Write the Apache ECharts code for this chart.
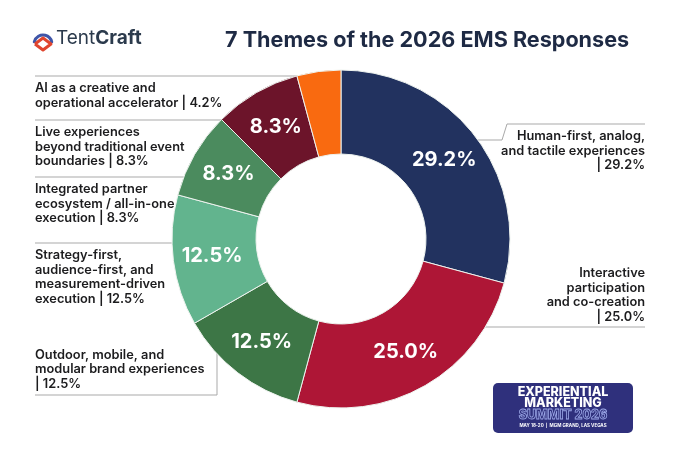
<!DOCTYPE html>
<html>
<head>
<meta charset="utf-8">
<script src="https://cdn.jsdelivr.net/npm/echarts@6/dist/echarts.min.js"></script>
<style>
  html, body { margin: 0; padding: 0; background: #ffffff; }
  #chart { width: 680px; height: 453px; }
</style>
</head>
<body>
<div id="chart"></div>
<script>
// themes, clockwise from 12 o'clock (trailing text before the "| x%" part)
const themes = [
  'Human-first, analog,\nand tactile experiences\n',
  'Interactive\nparticipation\nand co-creation\n',
  'Outdoor, mobile, and\nmodular brand experiences\n',
  'Strategy-first,\naudience-first, and\nmeasurement-driven\nexecution ',
  'Integrated partner\necosystem / all-in-one\nexecution ',
  'Live experiences\nbeyond traditional event\nboundaries ',
  'AI as a creative and\noperational accelerator '
]
const shares = [29.2, 25.0, 12.5, 12.5, 8.3, 8.3, 4.2]
const sliceColors = ['#22325f', '#ae1636', '#3d7646', '#62b48e', '#4b8b5e', '#6c142a', '#f96a10']

// where each callout sits (leader line + text anchor)
const callouts = [
  { pts: [[467, 140], [502, 140], [507, 124], [645, 124]], x: 645, y: 129, align: 'right', va: 'top' },
  { pts: [[470, 327], [645, 327]], x: 645, y: 324, align: 'right', va: 'bottom' },
  { pts: [[217, 352], [217, 395], [35, 395]], x: 35, y: 391, align: 'left', va: 'bottom' },
  { pts: [[182, 243], [35, 243]], x: 35, y: 248, align: 'left', va: 'top' },
  { pts: [[195, 177], [35, 177]], x: 35, y: 182, align: 'left', va: 'top' },
  { pts: [[237, 120], [35, 120]], x: 35, y: 125, align: 'left', va: 'top' },
  { pts: [[318, 76], [35, 76]], x: 35, y: 81, align: 'left', va: 'top' }
]

const center = [341, 239]
const radius = [85, 169]

let pieData = themes.map((n, i) => ({
  name: n,
  value: shares[i],
  itemStyle: { color: sliceColors[i] }
}))

let myChart = echarts.init(document.getElementById('chart'))
myChart.setOption({
  backgroundColor: '#ffffff',
  animation: false,
  title: {
    text: '7 Themes of the 2026 EMS Responses',
    left: 220,
    top: 24,
    textStyle: {
      fontFamily: 'Inter',
      fontSize: 21.6,
      fontWeight: 700,
      color: '#1e2a44'
    }
  },
  graphic: [
    // TentCraft logo
    {
      type: 'arc',
      shape: { cx: 43, cy: 44, r: 9, startAngle: Math.PI * 1.08, endAngle: Math.PI * 1.92 },
      style: { stroke: '#3f55a8', lineWidth: 3, fill: null, lineCap: 'round' }
    },
    {
      type: 'polyline',
      shape: { points: [[35, 44], [43, 38], [51, 44], [43, 50], [35, 44]] },
      style: { stroke: '#e0452e', lineWidth: 3, fill: null, lineJoin: 'round' }
    },
    {
      type: 'text',
      left: 56,
      top: 29,
      style: {
        text: '{a|Tent}{b|Craft}',
        rich: {
          a: { fontFamily: 'Inter', fontSize: 19, fontWeight: 400, fill: '#2b3a4c' },
          b: { fontFamily: 'Inter', fontSize: 19, fontWeight: 700, fill: '#2b3a4c' }
        }
      }
    },
    // summit badge
    {
      type: 'rect',
      shape: { x: 493, y: 383, width: 140, height: 50, r: 5 },
      style: { fill: '#2f307c' }
    },
    {
      type: 'text',
      x: 563, y: 392,
      style: { text: 'EXPERIENTIAL', fill: '#ffffff', font: '800 12.5px Inter', align: 'center', verticalAlign: 'middle' }
    },
    {
      type: 'text',
      x: 563, y: 403.5,
      style: { text: 'MARKETING', fill: '#ffffff', font: '800 12.5px Inter', align: 'center', verticalAlign: 'middle' }
    },
    {
      type: 'text',
      x: 563, y: 415.5,
      style: { text: 'SUMMIT 2026', fill: 'transparent', stroke: '#9aa6e6', lineWidth: 0.8, font: '800 12.5px Inter', align: 'center', verticalAlign: 'middle' }
    },
    {
      type: 'text',
      x: 563, y: 425.5,
      style: { text: 'MAY 18-20  |  MGM GRAND, LAS VEGAS', fill: '#ffffff', font: '700 4.5px Inter', align: 'center', verticalAlign: 'middle' }
    }
  ],
  series: [
    {
      type: 'pie',
      center: center,
      radius: radius,
      startAngle: 90,
      silent: true,
      itemStyle: { borderColor: '#eef3ef', borderWidth: 1 },
      label: {
        show: true,
        position: 'inside',
        formatter: p => p.value.toFixed(1) + '%',
        fontFamily: 'Inter',
        fontSize: 20,
        fontWeight: 700,
        color: '#ffffff'
      },
      labelLine: { show: false },
      data: pieData
    },
    {
      type: 'pie',
      center: center,
      radius: radius,
      startAngle: 90,
      silent: true,
      itemStyle: { color: 'transparent', borderWidth: 0 },
      label: {
        show: true,
        position: 'outside',
        overflow: 'none',
        width: 260,
        formatter: p => p.name + '| ' + p.value.toFixed(1) + '%',
        fontFamily: 'Inter',
        fontSize: 12.8,
        fontWeight: 600,
        lineHeight: 14.5,
        color: '#1c1c1e'
      },
      labelLine: {
        show: true,
        lineStyle: { color: '#a9a9a9', width: 1 }
      },
      labelLayout: function (params) {
        let c = callouts[params.dataIndex]
        return {
          x: c.x,
          y: c.y,
          width: 260,
          align: c.align,
          verticalAlign: c.va,
          labelLinePoints: c.pts
        }
      },
      data: themes.map((n, i) => ({ name: n, value: shares[i] }))
    }
  ]
})
</script>
</body>
</html>
